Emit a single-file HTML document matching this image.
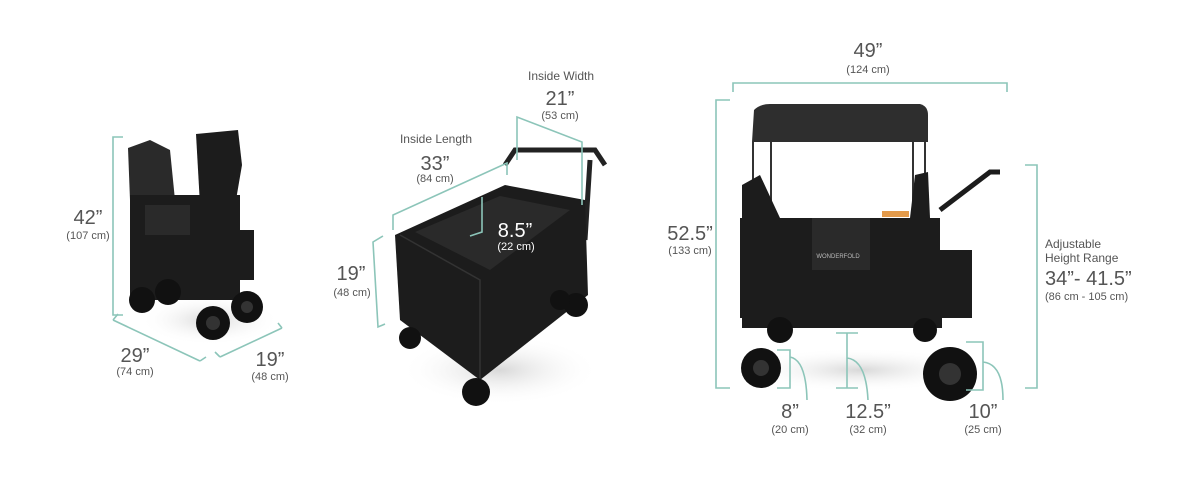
<!DOCTYPE html>
<html><head><meta charset="utf-8"><style>
html,body{margin:0;padding:0;background:#fff}
svg{display:block}
text{font-family:"Liberation Sans",sans-serif;fill:#555;text-anchor:middle}
.b{font-size:20px}.s{font-size:11px}.m{font-size:12px}
.d{stroke:#8cc5b9;stroke-width:1.6;fill:none}
.k{fill:#1c1c1c}.k2{fill:#2a2a2a}.w{fill:#111}
</style></head><body>
<svg width="1200" height="480" viewBox="0 0 1200 480">
<defs><radialGradient id="sh"><stop offset="0" stop-color="#d8d8d8"/><stop offset="1" stop-color="#fff" stop-opacity="0"/></radialGradient></defs>
<!-- LEFT WAGON -->
<ellipse cx="210" cy="320" rx="70" ry="25" fill="url(#sh)"/>
<path class="k2" d="M128,148 L150,140 L170,150 L175,200 L130,200 Z"/>
<path class="k" d="M196,134 L238,130 L242,165 L236,200 L200,205 Z"/>
<rect class="k" x="130" y="195" width="110" height="100"/>
<rect class="k2" x="145" y="205" width="45" height="30"/>
<rect class="k" x="236" y="230" width="18" height="50"/>
<rect class="k" x="140" y="285" width="100" height="15"/>
<circle class="w" cx="142" cy="300" r="13"/><circle class="w" cx="168" cy="292" r="13"/>
<circle class="w" cx="213" cy="323" r="17"/><circle class="w" cx="247" cy="307" r="16"/>
<circle fill="#333" cx="213" cy="323" r="7"/><circle fill="#333" cx="247" cy="307" r="6"/>
<path class="d" d="M123,137 H113 V315 H123"/>
<path class="d" d="M113,320 L200,361 M113,320 l5,-6 M200,361 l6,-4"/>
<path class="d" d="M220,357 L282,328 M220,357 l-5,-5 M282,328 l-4,-5"/>
<text class="b" x="88" y="224">42”</text><text class="s" x="88" y="239">(107 cm)</text>
<text class="b" x="135" y="362">29”</text><text class="s" x="135" y="375">(74 cm)</text>
<text class="b" x="270" y="366">19”</text><text class="s" x="270" y="380">(48 cm)</text>
<!-- MIDDLE WAGON -->
<ellipse cx="500" cy="370" rx="100" ry="35" fill="url(#sh)"/>
<path d="M505,165 L515,150 L595,150 L605,165" stroke="#222" stroke-width="5" fill="none"/>
<path d="M590,160 L585,240" stroke="#222" stroke-width="5"/>
<path class="k" d="M395,235 L505,185 L585,200 L588,295 L480,380 L400,320 Z"/>
<path class="k2" d="M415,232 L500,196 L570,210 L490,270 Z"/>
<path d="M400,235 L480,280 L480,380" stroke="#333" stroke-width="1.5" fill="none"/>
<circle class="w" cx="410" cy="338" r="11"/><circle class="w" cx="476" cy="392" r="14"/>
<circle class="w" cx="576" cy="305" r="12"/><circle class="w" cx="560" cy="300" r="10"/>
<path class="d" d="M383,236 L373,242 L378,327 L385,324"/>
<path class="d" d="M393,230 V215 L507,163 V175"/>
<path class="d" d="M517,160 V117 L582,142 V205"/>
<path class="d" d="M482,197 V232 L470,236"/>
<text class="m" x="561" y="80">Inside Width</text>
<text class="b" x="560" y="105">21”</text><text class="s" x="560" y="119">(53 cm)</text>
<text class="m" x="436" y="143">Inside Length</text>
<text class="b" x="435" y="170">33”</text><text class="s" x="435" y="182">(84 cm)</text>
<text class="b" x="515" y="237" style="fill:#fff">8.5”</text><text class="s" x="516" y="250" style="fill:#fff">(22 cm)</text>
<text class="b" x="351" y="280">19”</text><text class="s" x="352" y="296">(48 cm)</text>
<!-- RIGHT WAGON -->
<ellipse cx="860" cy="370" rx="120" ry="22" fill="url(#sh)"/>
<path fill="#2e2e2e" d="M752,142 L754,110 Q760,104 770,104 L920,104 Q928,106 928,115 L928,142 Z"/>
<path d="M753,142 V218 M771,142 V218 M913,142 V218 M925,142 V218" stroke="#333" stroke-width="2"/>
<path class="k" d="M742,185 L760,175 L780,218 L742,218 Z"/><path class="k" d="M915,175 L928,172 L930,218 L910,218 Z"/>
<path d="M940,210 L990,172 L1000,172" stroke="#1c1c1c" stroke-width="5" fill="none"/>
<rect class="k" x="740" y="218" width="200" height="100"/>
<rect class="k2" x="812" y="218" width="58" height="52"/>
<text x="838" y="258" style="font-size:6px;fill:#bbb">WONDERFOLD</text>
<rect x="882" y="211" width="27" height="6" fill="#e39a4a"/>
<rect class="k" x="940" y="250" width="32" height="68"/>
<rect class="k" x="742" y="318" width="200" height="10"/>
<circle class="w" cx="780" cy="330" r="13"/><circle class="w" cx="925" cy="330" r="12"/>
<circle class="w" cx="761" cy="368" r="20"/><circle fill="#333" cx="761" cy="368" r="8"/>
<circle class="w" cx="950" cy="374" r="27"/><circle fill="#333" cx="950" cy="374" r="11"/>
<path class="d" d="M733,92 V83 H1007 V92"/>
<path class="d" d="M730,100 H716 V388 H730"/>
<path class="d" d="M1025,165 H1037 V388 H1025"/>
<path class="d" d="M777,350 H790 V388 H777 M790,357 Q806,360 807,400"/>
<path class="d" d="M836,333 H858 M847,333 V388 M836,388 H858 M847,358 Q866,360 868,400"/>
<path class="d" d="M966,342 H983 V390 H966 M983,362 Q1003,364 1003,400"/>
<text class="b" x="868" y="57">49”</text><text class="s" x="868" y="73">(124 cm)</text>
<text class="b" x="690" y="240">52.5”</text><text class="s" x="690" y="254">(133 cm)</text>
<text class="m" x="1045" y="248" style="text-anchor:start">Adjustable</text>
<text class="m" x="1045" y="262" style="text-anchor:start">Height Range</text>
<text class="b" x="1045" y="285" style="text-anchor:start">34”- 41.5”</text>
<text class="s" x="1045" y="300" style="text-anchor:start">(86 cm - 105 cm)</text>
<text class="b" x="790" y="418">8”</text><text class="s" x="790" y="433">(20 cm)</text>
<text class="b" x="868" y="418">12.5”</text><text class="s" x="868" y="433">(32 cm)</text>
<text class="b" x="983" y="418">10”</text><text class="s" x="983" y="433">(25 cm)</text>
</svg>
</body></html>
